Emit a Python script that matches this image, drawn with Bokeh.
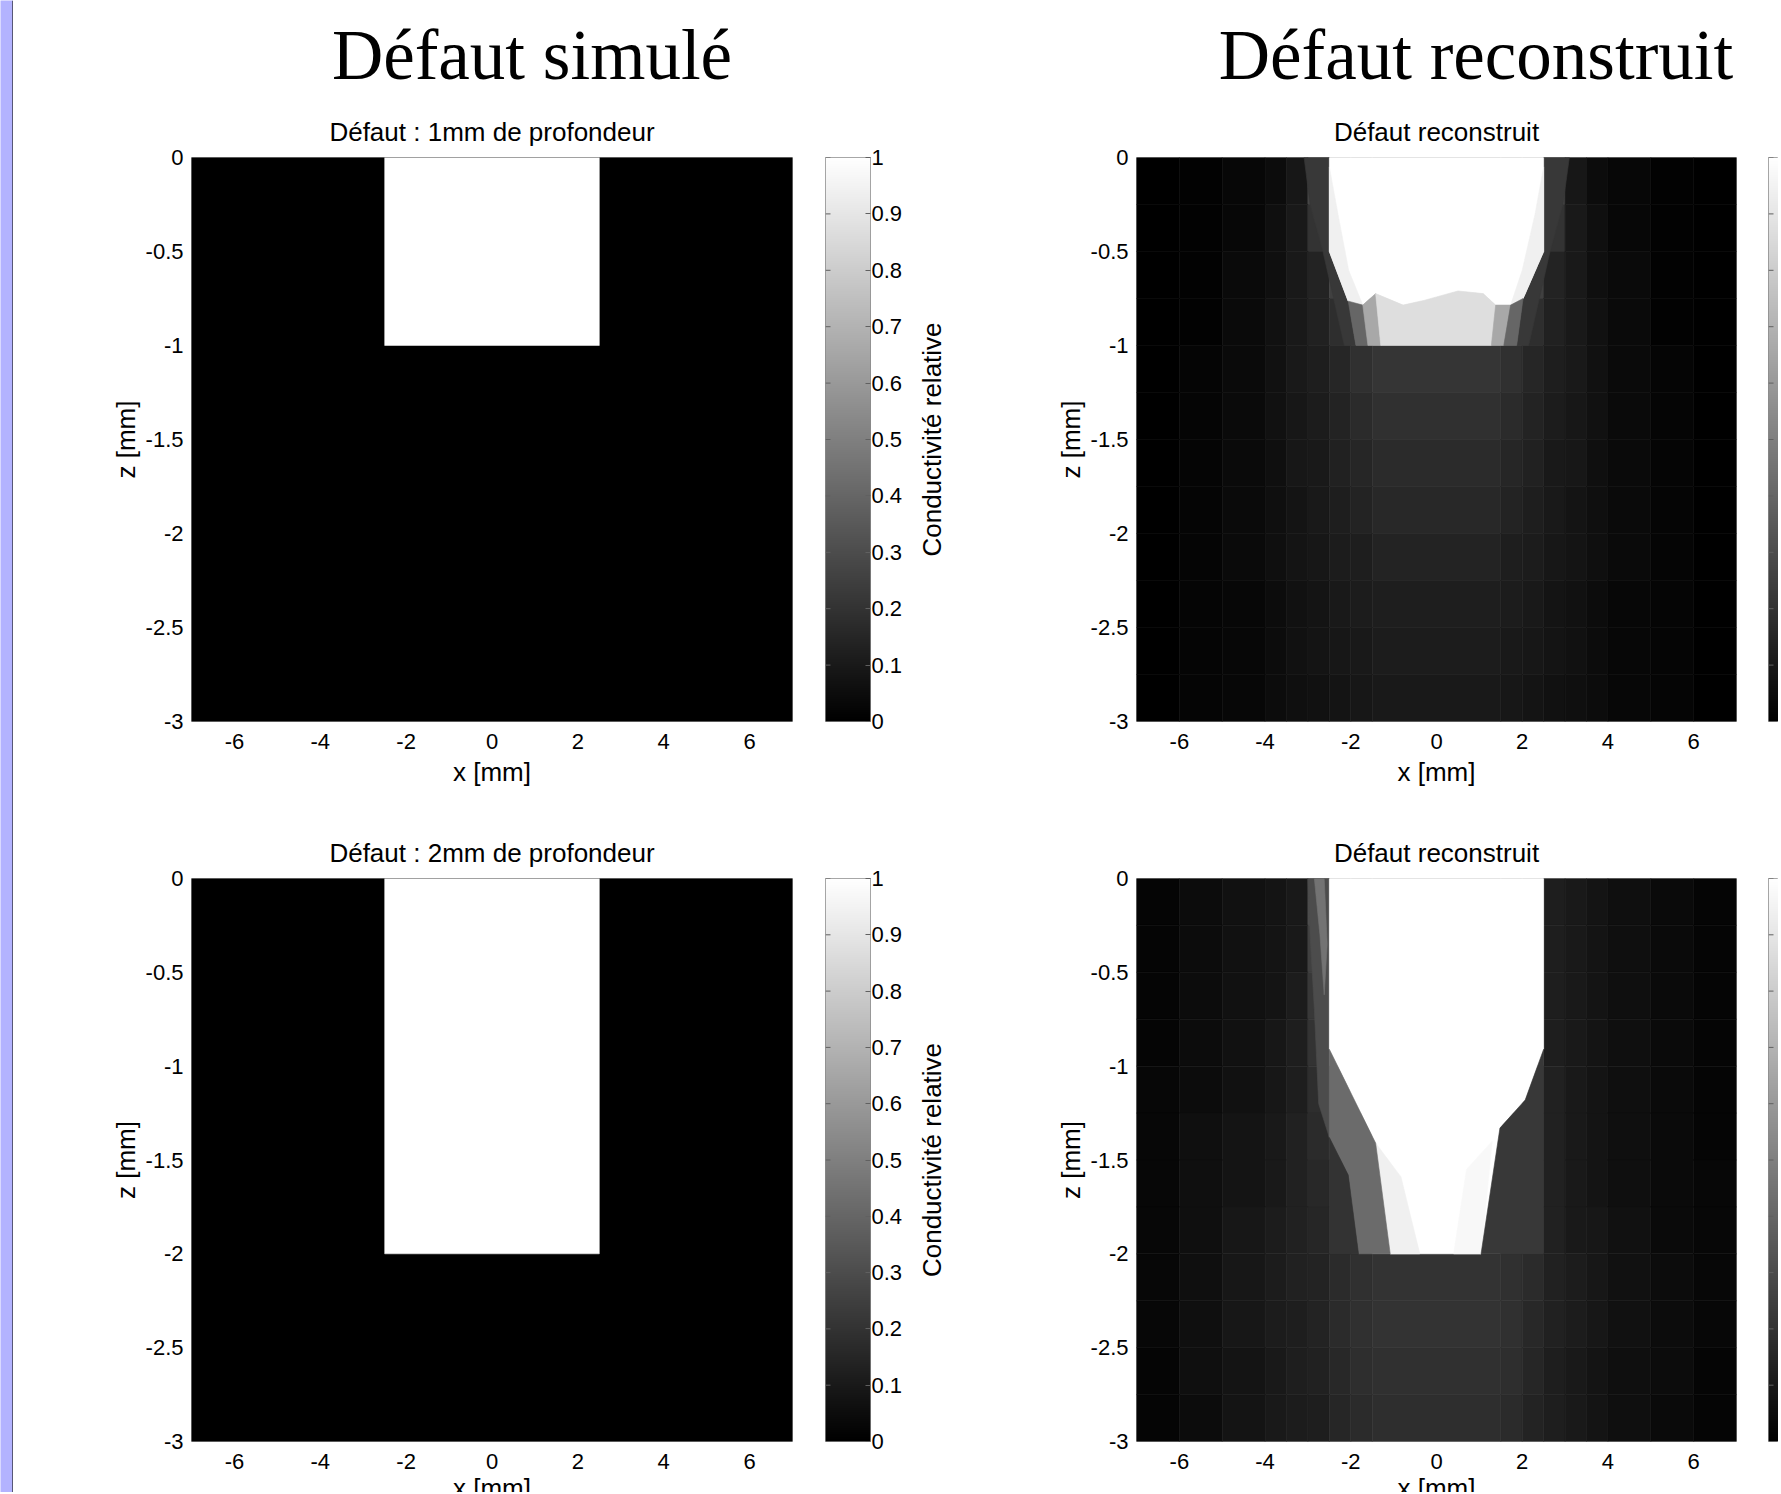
import numpy as np
from bokeh.plotting import figure
from bokeh.models import (Range1d, FixedTicker, ColumnDataSource, LinearAxis,
                          Span, CustomJSTickFormatter, LinearColorMapper)
from bokeh.layouts import row, column
from bokeh.transform import linear_cmap
from bokeh.embed import file_html
from bokeh.resources import INLINE
from bokeh.core.properties import value

# ------------------------------------------------------------------ data
x_ticks = [-6, -4, -2, 0, 2, 4, 6]
z_ticks = [0, -0.5, -1, -1.5, -2, -2.5, -3]
cbar_ticks = [0, 0.1, 0.2, 0.3, 0.4, 0.5, 0.6, 0.7, 0.8, 0.9, 1]

x_extent = (-7, 7)
z_extent = (-3, 0)
cond_low, cond_high = 0.0, 1.0

main_titles = ["Défaut simulé", "Défaut reconstruit"]
sim_titles = ["Défaut : 1mm de profondeur", "Défaut : 2mm de profondeur"]
rec_title = "Défaut reconstruit"
x_label = "x [mm]"
z_label = "z [mm]"
cbar_label = "Conductivité relative"

# simulated rectangular defects
sim_left = [-2.5, -2.5]
sim_right = [2.5, 2.5]
sim_bottom = [-1, -2]
sim_defect_value = 1.0
sim_background_value = 0.0

# reconstructed conductivity: cell grid
rec_x_edges = [-7, -6, -5, -4, -3.5, -3, -2.5, -2, -1.5, 1.5, 2, 2.5, 3, 3.5, 4, 5, 6, 7]
rec_z_edges = [0, -0.25, -0.5, -0.75, -1, -1.25, -1.5, -1.75, -2, -2.25, -2.5, -2.75, -3]

rec1_cells = [
    [0.00, 0.01, 0.03, 0.05, 0.09, 0.28, 1.00, 1.00, 1.00, 1.00, 1.00, 0.28, 0.09, 0.05, 0.03, 0.01, 0.00],
    [0.00, 0.01, 0.03, 0.06, 0.10, 0.20, 1.00, 1.00, 1.00, 1.00, 1.00, 0.20, 0.10, 0.06, 0.03, 0.01, 0.00],
    [0.00, 0.01, 0.04, 0.06, 0.10, 0.14, 0.25, 0.90, 0.95, 0.90, 0.25, 0.14, 0.10, 0.06, 0.04, 0.01, 0.00],
    [0.00, 0.01, 0.04, 0.07, 0.10, 0.13, 0.18, 0.50, 0.87, 0.50, 0.18, 0.13, 0.10, 0.07, 0.04, 0.01, 0.00],
    [0.00, 0.02, 0.04, 0.07, 0.10, 0.12, 0.15, 0.19, 0.21, 0.19, 0.15, 0.12, 0.10, 0.07, 0.04, 0.02, 0.00],
    [0.00, 0.02, 0.04, 0.07, 0.09, 0.11, 0.14, 0.17, 0.19, 0.17, 0.14, 0.11, 0.09, 0.07, 0.04, 0.02, 0.00],
    [0.00, 0.02, 0.04, 0.06, 0.09, 0.10, 0.13, 0.15, 0.17, 0.15, 0.13, 0.10, 0.09, 0.06, 0.04, 0.02, 0.00],
    [0.00, 0.02, 0.04, 0.06, 0.08, 0.10, 0.12, 0.14, 0.16, 0.14, 0.12, 0.10, 0.08, 0.06, 0.04, 0.02, 0.00],
    [0.00, 0.02, 0.04, 0.06, 0.08, 0.09, 0.11, 0.12, 0.14, 0.12, 0.11, 0.09, 0.08, 0.06, 0.04, 0.02, 0.00],
    [0.00, 0.02, 0.03, 0.05, 0.07, 0.08, 0.10, 0.11, 0.12, 0.11, 0.10, 0.08, 0.07, 0.05, 0.03, 0.02, 0.00],
    [0.00, 0.02, 0.03, 0.05, 0.07, 0.08, 0.09, 0.10, 0.11, 0.10, 0.09, 0.08, 0.07, 0.05, 0.03, 0.02, 0.00],
    [0.00, 0.02, 0.03, 0.05, 0.06, 0.07, 0.08, 0.09, 0.10, 0.09, 0.08, 0.07, 0.06, 0.05, 0.03, 0.02, 0.00],
]

rec2_cells = [
    [0.02, 0.05, 0.07, 0.08, 0.10, 0.30, 1.00, 1.00, 1.00, 1.00, 1.00, 0.12, 0.10, 0.08, 0.06, 0.04, 0.02],
    [0.02, 0.05, 0.07, 0.08, 0.10, 0.25, 1.00, 1.00, 1.00, 1.00, 1.00, 0.12, 0.10, 0.08, 0.06, 0.04, 0.02],
    [0.02, 0.05, 0.07, 0.08, 0.11, 0.22, 1.00, 1.00, 1.00, 1.00, 1.00, 0.12, 0.10, 0.08, 0.06, 0.04, 0.02],
    [0.02, 0.05, 0.07, 0.09, 0.12, 0.20, 1.00, 1.00, 1.00, 1.00, 1.00, 0.12, 0.10, 0.08, 0.06, 0.04, 0.02],
    [0.03, 0.05, 0.07, 0.09, 0.12, 0.18, 0.40, 1.00, 1.00, 1.00, 0.22, 0.13, 0.10, 0.08, 0.06, 0.04, 0.02],
    [0.03, 0.06, 0.08, 0.10, 0.13, 0.17, 0.30, 0.42, 1.00, 0.22, 0.22, 0.13, 0.10, 0.08, 0.06, 0.04, 0.02],
    [0.03, 0.06, 0.08, 0.10, 0.13, 0.16, 0.20, 0.42, 1.00, 0.22, 0.22, 0.13, 0.10, 0.08, 0.06, 0.04, 0.03],
    [0.03, 0.06, 0.09, 0.11, 0.13, 0.15, 0.20, 0.30, 1.00, 0.22, 0.22, 0.13, 0.10, 0.09, 0.07, 0.04, 0.03],
    [0.03, 0.06, 0.09, 0.11, 0.13, 0.14, 0.17, 0.19, 0.20, 0.19, 0.17, 0.13, 0.11, 0.09, 0.07, 0.05, 0.03],
    [0.03, 0.06, 0.09, 0.11, 0.12, 0.14, 0.17, 0.19, 0.20, 0.19, 0.16, 0.13, 0.11, 0.09, 0.07, 0.05, 0.03],
    [0.02, 0.06, 0.08, 0.10, 0.12, 0.13, 0.16, 0.18, 0.19, 0.18, 0.15, 0.12, 0.10, 0.08, 0.06, 0.05, 0.02],
    [0.02, 0.05, 0.08, 0.10, 0.11, 0.12, 0.15, 0.17, 0.18, 0.17, 0.14, 0.12, 0.10, 0.08, 0.06, 0.04, 0.02],
]

# reconstructed conductivity: mesh zones around the defect (x, z vertices in mm)
rec1_zone_x = [
    [-3.09, -2.5, -2.5, -2.06, -1.88, -2.15, -2.65, -2.95],
    [2.5, 3.1, 2.95, 2.65, 2.15, 1.87, 2.02, 2.5],
    [-2.5, 2.5, 2.5, 2.02, 1.73, 1.38, 1.09, 0.5, -0.29, -0.78, -1.42, -1.72, -2.06, -2.5],
    [-2.5, -2.3, -2.05, -1.72, -2.06, -2.5],
    [2.5, 2.3, 2.0, 1.73, 2.02, 2.5],
    [-2.06, -1.72, -1.6, -1.88],
    [-1.72, -1.42, -1.3, -1.6],
    [-1.42, -0.78, -0.29, 0.5, 1.09, 1.38, 1.28, -1.3],
    [1.38, 1.73, 1.57, 1.28],
    [1.73, 2.02, 1.87, 1.57],
]
rec1_zone_z = [
    [0, 0, -0.5, -0.764, -1.0, -1.0, -0.5, -0.25],
    [0, 0, -0.25, -0.5, -1.0, -1.0, -0.75, -0.5],
    [0, 0, -0.5, -0.75, -0.785, -0.785, -0.724, -0.71, -0.76, -0.785, -0.724, -0.785, -0.764, -0.5],
    [-0.05, -0.3, -0.6, -0.785, -0.764, -0.5],
    [-0.05, -0.3, -0.6, -0.785, -0.75, -0.5],
    [-0.764, -0.785, -1.0, -1.0],
    [-0.785, -0.724, -1.0, -1.0],
    [-0.724, -0.785, -0.76, -0.71, -0.724, -0.785, -1.0, -1.0],
    [-0.785, -0.785, -1.0, -1.0],
    [-0.785, -0.75, -1.0, -1.0],
]
rec1_zone_v = [0.22, 0.22, 1.0, 0.94, 0.94, 0.40, 0.66, 0.87, 0.66, 0.40]

rec2_zone_x = [
    [-3.0, -2.5, -2.5, -2.5, -2.75, -2.85, -2.95],
    [-2.85, -2.62, -2.55, -2.62, -2.72],
    [-2.5, 2.5, 2.5, 2.07, 1.48, 1.04, -1.08, -1.42, -2.5],
    [-1.42, -0.83, -0.39, -1.08],
    [0.7, 1.3, 1.04, 0.4],
    [-2.5, -1.42, -1.08, -1.82, -2.06, -2.5],
    [-2.5, -2.06, -1.82, -2.5],
    [2.5, 2.5, 1.04, 1.48, 2.07],
]
rec2_zone_z = [
    [0, 0, -0.91, -1.38, -1.2, -0.7, -0.3],
    [0, 0, -0.35, -0.62, -0.3],
    [0, 0, -0.91, -1.18, -1.33, -2.0, -2.0, -1.41, -0.91],
    [-1.41, -1.59, -2.0, -2.0],
    [-1.55, -1.4, -2.0, -2.0],
    [-0.91, -1.41, -2.0, -2.0, -1.58, -1.38],
    [-1.38, -1.58, -2.0, -2.0],
    [-0.91, -2.0, -2.0, -1.33, -1.18],
]
rec2_zone_v = [0.30, 0.45, 1.0, 0.94, 0.97, 0.42, 0.20, 0.22]

# ------------------------------------------------------------------ styling
gray = ["#%02x%02x%02x" % (i, i, i) for i in range(256)]
mapper = LinearColorMapper(palette=gray, low=cond_low, high=cond_high)
SANS = "Liberation Sans"
SERIF = "Liberation Serif"
TICK_PX = "22px"
LABEL_PX = "26px"
MID = 0.3465   # em distance from the text middle to its baseline


def base_fig(width, height, xr, yr, left=0, right=0, top=0, bottom=0):
    p = figure(width=width, height=height, x_range=xr, y_range=yr,
               output_backend="svg", toolbar_location=None, title=None,
               min_border_left=left, min_border_right=right,
               min_border_top=top, min_border_bottom=bottom,
               x_axis_location=None, y_axis_location=None)
    p.background_fill_color = "white"
    p.border_fill_color = "white"
    p.outline_line_color = None
    p.grid.visible = False
    return p


def put_text(p, xs, baselines, texts, font, size_px, angle=0.0):
    p.text(x=xs, y=[b - MID * size_px for b in baselines], text=texts, angle=angle,
           text_font=value(font), text_font_size="%dpx" % size_px, text_color="black",
           text_align="center", text_baseline="middle")


def panel(width, height, left, right, top, bottom, with_xlabel):
    p = figure(width=width, height=height,
               x_range=Range1d(*x_extent), y_range=Range1d(*z_extent),
               output_backend="svg", toolbar_location=None, title=None,
               min_border_left=left, min_border_right=right,
               min_border_top=top, min_border_bottom=bottom)
    p.grid.visible = False
    p.background_fill_color = "white"
    p.border_fill_color = "white"
    p.outline_line_color = "#a0a0a0"
    p.xaxis.ticker = FixedTicker(ticks=x_ticks)
    p.yaxis.ticker = FixedTicker(ticks=z_ticks)
    fmt = CustomJSTickFormatter(code="return tick.toString();")
    p.xaxis.formatter = fmt
    p.yaxis.formatter = fmt
    p.axis.major_tick_line_color = None
    p.axis.minor_tick_line_color = None
    p.axis.axis_line_color = None
    p.axis.major_label_text_font = SANS
    p.axis.major_label_text_font_size = TICK_PX
    p.axis.major_label_text_color = "black"
    p.xaxis.major_label_standoff = 6
    p.yaxis.major_label_standoff = 2
    p.yaxis.axis_label = z_label
    if with_xlabel:
        p.xaxis.axis_label = x_label
    p.axis.axis_label_text_font = SANS
    p.axis.axis_label_text_font_size = LABEL_PX
    p.axis.axis_label_text_font_style = "normal"
    p.axis.axis_label_text_color = "black"
    p.xaxis.axis_label_standoff = 5
    p.yaxis.axis_label_standoff = 2
    return p


def draw_sim(p, k):
    src = ColumnDataSource(dict(
        left=[x_extent[0], sim_left[k]], right=[x_extent[1], sim_right[k]],
        top=[z_extent[1], 0], bottom=[z_extent[0], sim_bottom[k]],
        v=[sim_background_value, sim_defect_value]))
    cm = linear_cmap("v", gray, cond_low, cond_high)
    p.quad(left="left", right="right", top="top", bottom="bottom", source=src,
           fill_color=cm, line_color=cm, line_width=0.5)


def draw_rec(p, cells, zx, zz, zv):
    l, r, t, b, v = [], [], [], [], []
    for i in range(len(rec_z_edges) - 1):
        for j in range(len(rec_x_edges) - 1):
            l.append(rec_x_edges[j]); r.append(rec_x_edges[j + 1])
            t.append(rec_z_edges[i]); b.append(rec_z_edges[i + 1])
            v.append(cells[i][j])
    cm = linear_cmap("v", gray, cond_low, cond_high)
    p.quad(left="left", right="right", top="top", bottom="bottom",
           source=ColumnDataSource(dict(left=l, right=r, top=t, bottom=b, v=v)),
           fill_color=cm, line_color=cm, line_width=0.6)
    cm2 = linear_cmap("v", gray, cond_low, cond_high)
    p.patches(xs="xs", ys="ys", source=ColumnDataSource(dict(xs=zx, ys=zz, v=zv)),
              fill_color=cm2, line_color=cm2, line_width=0.6)


BAR_W = 45.0   # px width of a colour bar


def colorbar_fig(width, height, left, right, top, bottom, frame_w, with_labels):
    p = base_fig(width, height, Range1d(0, frame_w / BAR_W), Range1d(cond_low, cond_high),
                 left=left, right=right, top=top, bottom=bottom)
    p.outline_line_color = "#8a8a8a"
    ramp = np.linspace(cond_low, cond_high, 256).reshape(-1, 1)
    p.image(image=[ramp], x=0, y=cond_low, dw=1, dh=cond_high - cond_low, color_mapper=mapper)
    # inward ticks on the left edge of the bar
    p.segment(x0=[0] * len(cbar_ticks), x1=[5 / BAR_W] * len(cbar_ticks),
              y0=cbar_ticks, y1=cbar_ticks, line_color="#606060", line_width=1)
    if with_labels:
        fmt = CustomJSTickFormatter(code="return tick.toString();")
        rax = LinearAxis(ticker=FixedTicker(ticks=cbar_ticks), formatter=fmt)
        rax.major_label_text_font = SANS
        rax.major_label_text_font_size = TICK_PX
        rax.major_label_text_color = "black"
        rax.major_label_standoff = 1
        rax.axis_line_color = None
        rax.major_tick_in = 5
        rax.major_tick_out = 0
        rax.major_tick_line_color = "#606060"
        rax.minor_tick_line_color = None
        p.add_layout(rax, "right")
    return p


def cbar_label_fig(width, height, top, bottom, x0, xc):
    p = base_fig(width, height, Range1d(x0, x0 + width), Range1d(0, 1), top=top, bottom=bottom)
    p.text(x=[xc], y=[0.5], text=[cbar_label], angle=np.pi / 2,
           text_font=value(SANS), text_font_size=LABEL_PX, text_color="black",
           text_align="center", text_baseline="middle")
    return p


# ------------------------------------------------------------------ layout (page px)
X0 = 13                 # content starts right of the side strip
TOTAL_W = 1778 - X0

strip = base_fig(X0, 1492, Range1d(0, X0), Range1d(0, 1))
strip.background_fill_color = "#b3b3ff"
strip.add_layout(Span(location=12.5, dimension="height", line_color="#1c1c1c", line_width=1.2))

hdr = base_fig(TOTAL_W, 148, Range1d(X0, X0 + TOTAL_W), Range1d(148, 0))
put_text(hdr, [531.5, 1475.5], [79.5, 79.5], main_titles, SERIF, 71)
put_text(hdr, [491.5, 1436], [141, 141], [sim_titles[0], rec_title], SANS, 26)

mid = base_fig(TOTAL_W, 39, Range1d(X0, X0 + TOTAL_W), Range1d(869, 830))
put_text(mid, [491.5, 1436], [862, 862], [sim_titles[1], rec_title], SANS, 26)

foot = base_fig(TOTAL_W, 18, Range1d(X0, X0 + TOTAL_W), Range1d(1492, 1474))
put_text(foot, [491.5, 1436], [1497, 1497], [x_label, x_label], SANS, 26)

# row 1 (frames 157..721)
tl = panel(795, 682, 178, 16, 9, 109, True)
draw_sim(tl, 0)
cb1 = colorbar_fig(105, 682, 17, 43, 9, 107, 45, True)
cbl1 = cbar_label_fig(95, 682, 9, 107, 913, 931.5)
tr = panel(745, 682, 128, 17, 9, 109, True)
draw_rec(tr, rec1_cells, rec1_zone_x, rec1_zone_z, rec1_zone_v)
cb2 = colorbar_fig(25, 682, 15, 0, 9, 107, 10, False)

# row 2 (frames 878..1441)
bl = panel(795, 605, 178, 16, 9, 33, False)
draw_sim(bl, 1)
cb3 = colorbar_fig(105, 605, 17, 43, 9, 33, 45, True)
cbl3 = cbar_label_fig(95, 605, 9, 33, 913, 931.5)
br = panel(745, 605, 128, 17, 9, 33, False)
draw_rec(br, rec2_cells, rec2_zone_x, rec2_zone_z, rec2_zone_v)
cb4 = colorbar_fig(25, 605, 15, 0, 9, 33, 10, False)

layout = row(strip, column(hdr,
                           row(tl, cb1, cbl1, tr, cb2),
                           mid,
                           row(bl, cb3, cbl3, br, cb4),
                           foot))

open("out.html", "w").write(file_html(layout, INLINE))
